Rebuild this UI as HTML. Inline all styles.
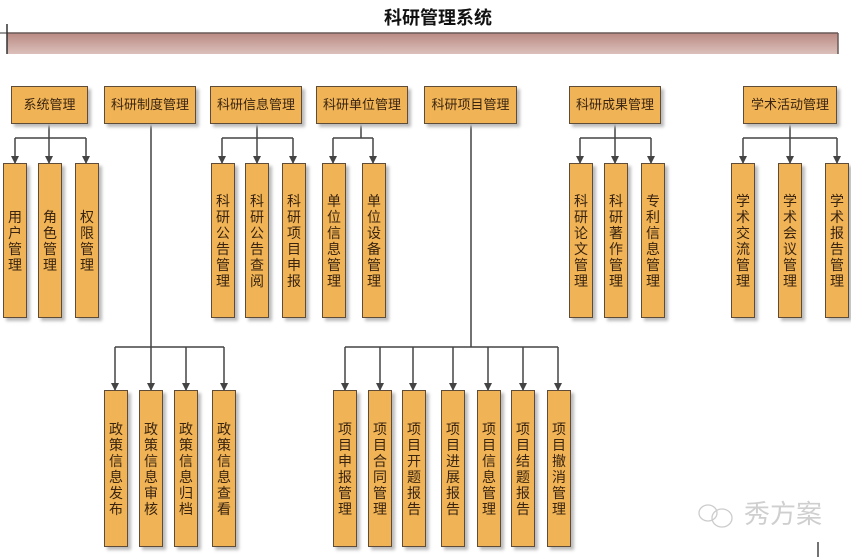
<!DOCTYPE html>
<html><head><meta charset="utf-8"><style>
body{margin:0;width:851px;height:557px;background:#fff;position:relative;overflow:hidden;font-family:"Liberation Sans","Noto Sans CJK SC",sans-serif;}
.b{position:absolute;background:#f0b456;border:1.5px solid #5e4c38;box-shadow:3px 3px 3px #bbb;box-sizing:border-box;color:#3a2410;}
.t{height:38px;top:86px;font-size:13px;line-height:35px;text-align:center;white-space:nowrap;}
.v{width:24px;font-size:14px;line-height:16px;display:flex;align-items:center;justify-content:center;}
.v span{width:15px;display:block;word-break:break-all;text-align:center;}
.s{top:163px;height:155px;}
.d{top:390px;height:157px;}
svg{position:absolute;left:0;top:0;}
</style></head><body>
<svg width="851" height="557">
<defs><linearGradient id="g" x1="0" y1="0" x2="0" y2="1"><stop offset="0" stop-color="#b98a83"/><stop offset="1" stop-color="#dcc0bb"/></linearGradient>
<marker id="a" markerWidth="8" markerHeight="8" refX="4" refY="7" orient="0" markerUnits="userSpaceOnUse"><path d="M0,0 L8,0 L4,8z" fill="#444"/></marker></defs>
<rect x="7" y="33" width="831" height="21" fill="url(#g)"/>
<line x1="7" y1="33" x2="838" y2="33" stroke="#6a5a58" stroke-width="1.5"/>
<line x1="838" y1="33" x2="838" y2="54" stroke="#6a5a58" stroke-width="1.5"/>
<line x1="7" y1="24" x2="7" y2="54" stroke="#333" stroke-width="1.5"/>
<line x1="0" y1="33" x2="7" y2="33" stroke="#333" stroke-width="1"/>
<text x="438" y="24" font-size="18" font-weight="bold" text-anchor="middle" fill="#111" font-family="Liberation Sans,Noto Sans CJK SC,sans-serif">科研管理系统</text>
<g stroke="#444" stroke-width="1.5" fill="none">
<path d="M49 124V138M15 138H86"/><path d="M151 124V347M115 347H224"/><path d="M471 124V347M345 347H558"/>
<path d="M257 124V138M222 138H293"/><path d="M361 124V138M333 138H373"/><path d="M615 124V138M580 138H651"/><path d="M790 124V138M743 138H837"/>
</g>
<g stroke="#444" stroke-width="1.5" fill="none" marker-end="url(#a)">
<path d="M15 138V163"/><path d="M49 138V163"/><path d="M86 138V163"/>
<path d="M222 138V163"/><path d="M257 138V163"/><path d="M293 138V163"/>
<path d="M333 138V163"/><path d="M373 138V163"/>
<path d="M580 138V163"/><path d="M615 138V163"/><path d="M651 138V163"/>
<path d="M743 138V163"/><path d="M790 138V163"/><path d="M837 138V163"/>
<path d="M115 347V390"/><path d="M151 347V390"/><path d="M186 347V390"/><path d="M224 347V390"/>
<path d="M345 347V390"/><path d="M380 347V390"/><path d="M413 347V390"/><path d="M453 347V390"/><path d="M488 347V390"/><path d="M523 347V390"/><path d="M558 347V390"/>
</g>
<line x1="818" y1="542" x2="818" y2="557" stroke="#444" stroke-width="1.5"/>
<g fill="none" stroke="#ccc" stroke-width="1.3"><ellipse cx="708" cy="513" rx="9" ry="8"/><ellipse cx="722" cy="518" rx="10" ry="9"/></g>
<text x="744" y="523" font-size="26" fill="#cfcfcf" font-family="Noto Sans CJK SC,sans-serif">秀方案</text>
</svg>
<div class="b t" style="left:11px;width:77px">系统管理</div>
<div class="b t" style="left:104px;width:92px">科研制度管理</div>
<div class="b t" style="left:210px;width:92px">科研信息管理</div>
<div class="b t" style="left:316px;width:92px">科研单位管理</div>
<div class="b t" style="left:424px;width:93px">科研项目管理</div>
<div class="b t" style="left:569px;width:92px">科研成果管理</div>
<div class="b t" style="left:743px;width:94px">学术活动管理</div>

<div class="b v s" style="left:3px"><span>用户管理</span></div>
<div class="b v s" style="left:38px"><span>角色管理</span></div>
<div class="b v s" style="left:75px"><span>权限管理</span></div>
<div class="b v s" style="left:211px"><span>科研公告管理</span></div>
<div class="b v s" style="left:245px"><span>科研公告查阅</span></div>
<div class="b v s" style="left:282px"><span>科研项目申报</span></div>
<div class="b v s" style="left:322px"><span>单位信息管理</span></div>
<div class="b v s" style="left:362px"><span>单位设备管理</span></div>
<div class="b v s" style="left:569px"><span>科研论文管理</span></div>
<div class="b v s" style="left:604px"><span>科研著作管理</span></div>
<div class="b v s" style="left:641px"><span>专利信息管理</span></div>
<div class="b v s" style="left:731px"><span>学术交流管理</span></div>
<div class="b v s" style="left:778px"><span>学术会议管理</span></div>
<div class="b v s" style="left:825px"><span>学术报告管理</span></div>

<div class="b v d" style="left:104px"><span>政策信息发布</span></div>
<div class="b v d" style="left:139px"><span>政策信息审核</span></div>
<div class="b v d" style="left:174px"><span>政策信息归档</span></div>
<div class="b v d" style="left:212px"><span>政策信息查看</span></div>
<div class="b v d" style="left:333px"><span>项目申报管理</span></div>
<div class="b v d" style="left:368px"><span>项目合同管理</span></div>
<div class="b v d" style="left:402px"><span>项目开题报告</span></div>
<div class="b v d" style="left:441px"><span>项目进展报告</span></div>
<div class="b v d" style="left:477px"><span>项目信息管理</span></div>
<div class="b v d" style="left:511px"><span>项目结题报告</span></div>
<div class="b v d" style="left:547px"><span>项目撤消管理</span></div>
</body></html>
